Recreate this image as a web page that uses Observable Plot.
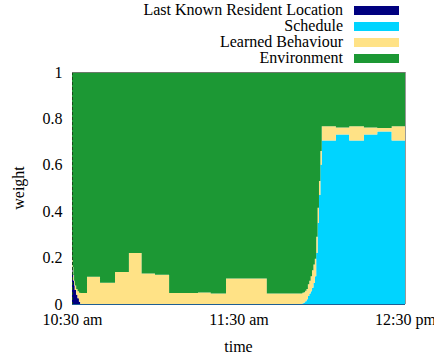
<!DOCTYPE html>
<html><head><meta charset="utf-8">
<script src="https://cdn.jsdelivr.net/npm/d3@7"></script>
<script src="https://cdn.jsdelivr.net/npm/@observablehq/plot@0.6"></script>
<style>
html,body{margin:0;padding:0;background:#fff;}
#wrap{position:relative;width:434px;height:359px;overflow:hidden;font-family:"Liberation Serif","DejaVu Serif",serif;}
#chart{position:absolute;left:0;top:0;}
#chart svg text{font-family:"Liberation Serif","DejaVu Serif",serif;}
.lrow{position:absolute;left:0;width:434px;height:16px;}
.ltxt{position:absolute;left:0;width:343px;text-align:right;font-size:16px;line-height:16px;color:#000;white-space:nowrap;font-family:"Liberation Serif","DejaVu Serif",serif;}
.lsw{position:absolute;left:354px;width:45px;height:9px;top:4px;}
</style></head>
<body>
<div id="wrap"><div id="chart"></div><div id="legend"></div></div>
<script>
// minutes after 10:30 am
const times = [0, 0.25, 0.5, 0.75, 1, 1.5, 2, 2.5, 3, 5.4, 10.1, 15.5, 20.5, 25.1, 29.9, 35, 45.4, 50, 55.5, 70.2,
  83, 83.5, 84, 84.5, 85, 85.5, 86, 86.5, 87, 87.5, 88, 88.5, 89, 89.5, 90, 95.1, 99.9, 105.2, 110, 115.2, 120];
const lastKnown = [0.16, 0.13, 0.10, 0.08, 0.06, 0.04, 0.025, 0.01, 0, 0, 0, 0, 0, 0, 0, 0, 0, 0, 0, 0,
  0, 0, 0, 0, 0, 0, 0, 0, 0, 0, 0, 0, 0, 0, 0, 0, 0, 0, 0, 0, 0];
const schedule = [0, 0, 0, 0, 0, 0, 0, 0, 0, 0, 0, 0, 0, 0, 0, 0, 0, 0, 0, 0,
  0.003, 0.006, 0.012, 0.02, 0.035, 0.045, 0.055, 0.07, 0.09, 0.12, 0.22, 0.35, 0.47, 0.6, 0.705, 0.731, 0.705, 0.731, 0.744, 0.705, 0.705];
const learned = [0.04, 0.03, 0.025, 0.02, 0.02, 0.025, 0.03, 0.038, 0.047, 0.117, 0.092, 0.138, 0.22, 0.132, 0.126, 0.047, 0.05, 0.045, 0.11, 0.045,
  0.045, 0.045, 0.045, 0.045, 0.05, 0.055, 0.065, 0.075, 0.08, 0.075, 0.07, 0.065, 0.06, 0.06, 0.061, 0.03, 0.061, 0.03, 0.015, 0.061, 0.061];
const environment = [0.80, 0.84, 0.875, 0.90, 0.92, 0.935, 0.945, 0.952, 0.953, 0.883, 0.908, 0.862, 0.78, 0.868, 0.874, 0.953, 0.95, 0.955, 0.89, 0.955,
  0.952, 0.949, 0.943, 0.935, 0.915, 0.90, 0.88, 0.855, 0.83, 0.805, 0.71, 0.585, 0.47, 0.34, 0.234, 0.239, 0.234, 0.239, 0.241, 0.234, 0.234];

const seriesNames = ["Last Known Resident Location", "Schedule", "Learned Behaviour", "Environment"];
const seriesColors = ["#00007f", "#00d4ff", "#ffe286", "#1c9834"];
const xTickValues = [0, 60, 120];
const xTickLabels = ["10:30 am", "11:30 am", "12:30 pm"];
const yTickValues = [0, 0.2, 0.4, 0.6, 0.8, 1];
const yTickLabels = ["0", "0.2", "0.4", "0.6", "0.8", "1"];

const seriesArrays = [lastKnown, schedule, learned, environment];
const data = [];
times.forEach((t, i) => {
  seriesArrays.forEach((arr, k) => data.push({t, v: arr[i], s: seriesNames[k]}));
});

const plot = Plot.plot({
  width: 434, height: 359,
  marginLeft: 72, marginRight: 29, marginTop: 72, marginBottom: 55,
  style: {fontFamily: "'Liberation Serif', 'DejaVu Serif', serif", fontSize: "16px", background: "transparent", overflow: "visible", color: "#000"},
  x: {domain: [0, 120], ticks: xTickValues, tickFormat: d => xTickLabels[xTickValues.indexOf(d)], tickSize: 0, tickPadding: 9, label: null},
  y: {domain: [0, 1], ticks: yTickValues, tickFormat: d => yTickLabels[yTickValues.indexOf(d)], tickSize: 0, tickPadding: 10, label: null},
  color: {domain: seriesNames, range: seriesColors},
  marks: [
    Plot.areaY(data, {x: "t", y: "v", fill: "s", order: seriesNames, curve: "step-after"}),
    Plot.ruleX([0], {stroke: "#1a4a1a", strokeDasharray: "3,2", strokeWidth: 1}),
    Plot.ruleY([1], {stroke: "#6a7a6a", strokeWidth: 1}),
    Plot.ruleX([120], {stroke: "#999", strokeWidth: 1}),
    Plot.ruleY([0], {stroke: "#1f5f94", strokeWidth: 1.2})
  ]
});
document.getElementById("chart").appendChild(plot);

const svg = d3.select(plot);
svg.append("text").attr("transform", "translate(18,188) rotate(-90)")
  .attr("text-anchor", "middle").attr("dominant-baseline", "central")
  .attr("font-size", 16).attr("fill", "#000").text("weight");
svg.append("text").attr("x", 238.5).attr("y", 346)
  .attr("text-anchor", "middle").attr("dominant-baseline", "central")
  .attr("font-size", 16).attr("fill", "#000").text("time");

const legend = d3.select("#legend");
const rowTops = [2, 18, 34, 50];
seriesNames.forEach((name, i) => {
  const row = legend.append("div").attr("class", "lrow").style("top", rowTops[i] + "px");
  row.append("div").attr("class", "ltxt").text(name);
  row.append("div").attr("class", "lsw").style("background", seriesColors[i]);
});
</script>
</body></html>
